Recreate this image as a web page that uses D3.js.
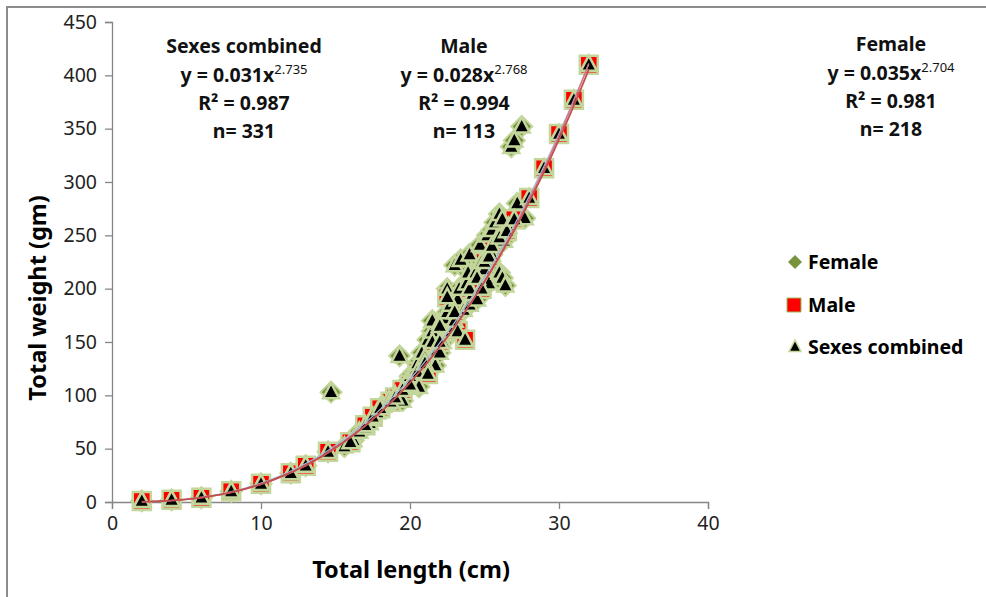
<!DOCTYPE html>
<html><head><meta charset="utf-8">
<script src="https://cdn.jsdelivr.net/npm/d3@7"></script>
<style>body{margin:0;background:#fff}svg{display:block}</style>
</head><body>
<svg id="c" width="986" height="597"></svg>
<script>
// ---- data ----
const femaleLength = [2,4,6,8,10,12,13,14.5,14.7,15.6,16.2,16.6,17,17.3,17.4,17.8,18,18.2,18.5,18.6,19,19.3,19.5,19.6,19.8,20,20.3,20.5,20.6,20.8,21,21,21.2,21.5,21.5,21.7,21.8,22,22,22.2,22.3,22.5,22.5,22.7,22.8,23,23,23.2,23.3,23.4,23.6,23.8,23.9,24,24,24.2,24.4,24.5,24.7,24.8,25,25.2,25.3,25.5,25.5,25.7,25.8,26,26,26.2,26.3,26.4,26.6,26.8,27,27.2,27.5,27.7];
const femaleWeight = [1,2,4,10,17,27,34,47,103,52,58,66,70,74,78,84,88,90,92,96,100,137,95,108,112,118,122,130,108,140,135,125,152,160,170,128,142,168,140,150,172,178,200,185,160,222,170,190,200,227,180,205,215,232,185,195,215,190,241,225,218,250,205,232,255,262,245,270,215,210,245,203,258,333,339,280,352,266];
const maleLength = [2,4,6,8,10,12,13,14.5,16,17,17.5,18,18.7,19,19.5,20,20.5,21,21.2,21.5,22,22,22.5,23,23.2,23.7,24,24.5,24.8,25,25.3,25.5,26,26.2,26.5,27,28,29,30,31,32];
const maleWeight = [1,2,4,10,17,27,34,47,56,72,80,88,94,98,105,110,122,130,120,150,165,150,192,178,160,152,200,210,200,225,230,240,248,265,254,265,285,313,345,377,410];
const combinedLength = femaleLength.concat(maleLength);
const combinedWeight = femaleWeight.concat(maleWeight);
const xTicks = [0,10,20,30,40];
const yTicks = [0,50,100,150,200,250,300,350,400,450];
const fits = [
  {name:"Female", a:0.035, b:2.704, r2:"0.981", n:"218"},
  {name:"Male", a:0.028, b:2.768, r2:"0.994", n:"113"},
  {name:"Sexes combined", a:0.031, b:2.735, r2:"0.987", n:"331"}
];
const legendLabels = ["Female","Male","Sexes combined"];

// ---- chart ----
const svg = d3.select("#c");
const FONT = "'Noto Sans', 'Open Sans', sans-serif";
svg.append("rect").attr("x",7).attr("y",7).attr("width",1000).attr("height",620)
  .attr("fill","#fff").attr("stroke","#8c8c8c").attr("stroke-width",2);

const x = d3.scaleLinear().domain([0,40]).range([112,708]);
const y = d3.scaleLinear().domain([0,450]).range([502,22]);

const gx = svg.append("g").attr("transform","translate(0,502)")
  .call(d3.axisBottom(x).tickValues(xTicks).tickSize(7).tickPadding(7));
const gy = svg.append("g").attr("transform","translate(112,0)")
  .call(d3.axisLeft(y).tickValues(yTicks).tickSize(7).tickPadding(8));
[gx,gy].forEach(g=>{
  g.selectAll("path,line").attr("stroke","#868686").attr("stroke-width",1.3);
  g.selectAll("text").attr("font-family",FONT).attr("font-size",19.5).attr("fill","#222");
});

svg.append("text").attr("x",411).attr("y",578).attr("text-anchor","middle")
  .attr("font-family",FONT).attr("font-weight","bold").attr("font-size",23.5).text("Total length (cm)");
svg.append("text").attr("transform","translate(46,298) rotate(-90)").attr("text-anchor","middle")
  .attr("font-family",FONT).attr("font-weight","bold").attr("font-size",23.5).text("Total weight (gm)");

// markers
const halo = "#C3D69B";
function tri(s){const h=s*0.95;return `M0,${-h*0.6}L${s/2},${h*0.4}L${-s/2},${h*0.4}Z`;}
function sq(s){return `M${-s/2},${-s/2}h${s}v${s}h${-s}Z`;}
function dia(s){return `M0,${-s/2}L${s/2},0L0,${s/2}L${-s/2},0Z`;}

const pts = (L,W)=>L.map((l,i)=>[l,W[i]]);
svg.append("g").selectAll("path").data(pts(femaleLength,femaleWeight)).join("path")
  .attr("transform",d=>`translate(${x(d[0])},${y(d[1])})`).attr("d",dia(21))
  .attr("fill","#77933C").attr("stroke",halo).attr("stroke-width",2);
svg.append("g").selectAll("path").data(pts(maleLength,maleWeight)).join("path")
  .attr("transform",d=>`translate(${x(d[0])},${y(d[1])})`).attr("d",sq(18))
  .attr("fill","#FF0000").attr("stroke",halo).attr("stroke-width",2.5);
svg.append("g").selectAll("path").data(pts(combinedLength,combinedWeight)).join("path")
  .attr("transform",d=>`translate(${x(d[0])},${y(d[1])})`).attr("d",tri(16))
  .attr("fill","#000").attr("stroke",halo).attr("stroke-width",2.5);

// fit curves
const Ls = d3.range(2,32.01,0.25);
const line = d3.line().x(d=>x(d[0])).y(d=>y(d[1])).curve(d3.curveMonotoneX);
const fitColors = ["#A7B7DA","#D9707A","#C0504D"];
fits.forEach((f,i)=>{
  svg.append("path").attr("d",line(Ls.map(l=>[l,f.a*Math.pow(l,f.b)])))
    .attr("fill","none").attr("stroke",fitColors[i]).attr("stroke-width",i===2?1.8:1.3);
});

// annotations
const annX = {"Sexes combined":244, "Male":464, "Female":891};
const annY = {"Sexes combined":53, "Male":53, "Female":51};
fits.forEach(f=>{
  const cx = annX[f.name], by = annY[f.name];
  const g = svg.append("g").attr("font-family",FONT).attr("font-weight","bold").attr("font-size",19.5)
    .attr("text-anchor","middle").attr("fill","#111");
  g.append("text").attr("x",cx).attr("y",by).text(f.name);
  const t = g.append("text").attr("x",cx).attr("y",by+29);
  t.append("tspan").text("y = "+f.a.toFixed(3)+"x");
  t.append("tspan").attr("dy",-8).attr("font-size",13).attr("font-weight","normal").text(f.b.toFixed(3));
  const r = g.append("text").attr("x",cx).attr("y",by+57);
  r.append("tspan").text("R² = "+f.r2);
  g.append("text").attr("x",cx).attr("y",by+85).text("n= "+f.n);
});

// legend
const lg = svg.append("g").attr("font-family",FONT).attr("font-weight","bold").attr("font-size",19.5);
const ly = [262,305,347];
lg.append("path").attr("transform",`translate(795,${ly[0]})`).attr("d",dia(14)).attr("fill","#77933C");
lg.append("path").attr("transform",`translate(794,${ly[1]})`).attr("d",sq(14)).attr("fill","#FF0000").attr("stroke","#9BBB59").attr("stroke-width",1);
lg.append("path").attr("transform",`translate(795,${ly[2]})`).attr("d",tri(12)).attr("fill","#000").attr("stroke",halo).attr("stroke-width",1.5);
legendLabels.forEach((t,i)=>{
  lg.append("text").attr("x",808).attr("y",ly[i]+7).text(t);
});
</script>
</body></html>
